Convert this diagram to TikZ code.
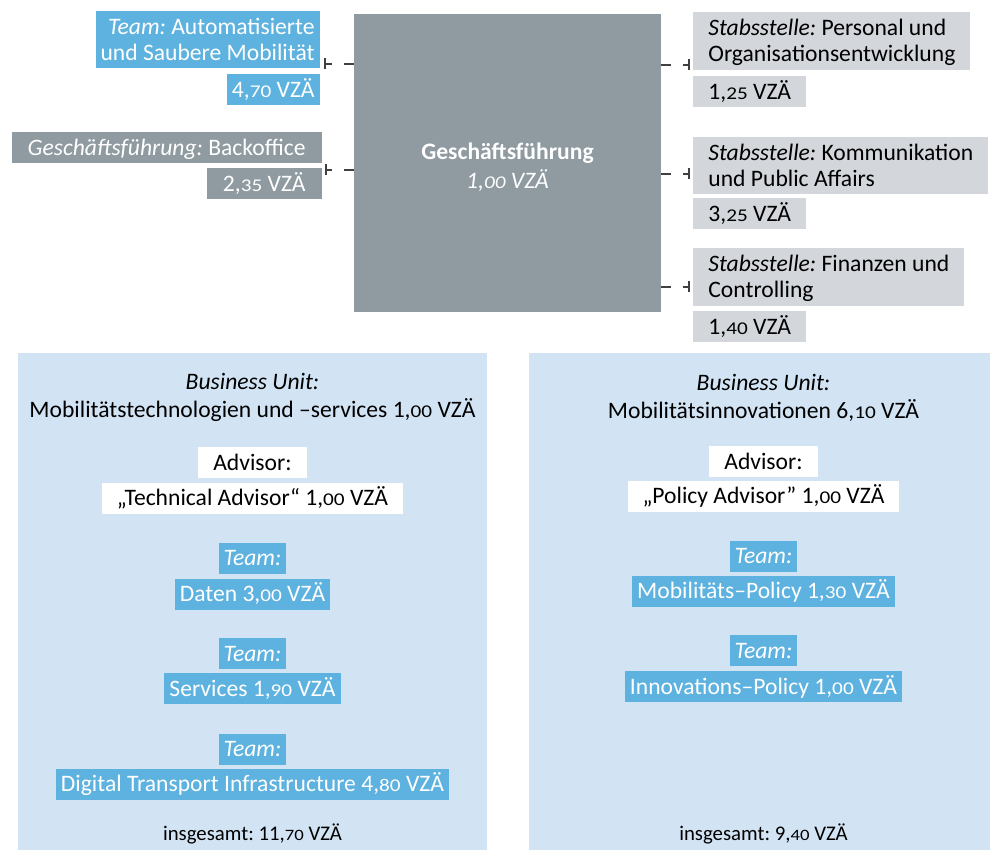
\documentclass[tikz,border=0pt]{standalone}
\usepackage{fontspec}
\setmainfont{Carlito}
\usepackage{xcolor}
\usepackage{graphicx}
\usepackage{tikz}
\usetikzlibrary{calc}
\usetikzlibrary{positioning}
\usetikzlibrary{arrows.meta}
\definecolor{teamblue}{RGB}{94,178,223}
\definecolor{unitblue}{RGB}{210,228,244}
\definecolor{gfgray}{RGB}{143,154,161}
\definecolor{stabgray}{RGB}{211,214,219}
\definecolor{linegray}{RGB}{64,64,64}
\newcommand{\onum}[1]{\scalebox{0.9}[0.76]{#1}}
\newcommand{\tstrut}{\rule{0pt}{9pt}}
\newcommand{\bstrut}{\rule[-1.5pt]{0pt}{1.5pt}}
\frenchspacing

\begin{document}
\begin{tikzpicture}[x=0.5pt,y=0.5pt,font=\fontsize{11.8}{13}\selectfont\frenchspacing,
      team style/.style={rectangle,fill=teamblue,text=white,inner
        xsep=2.5pt,inner ysep=2.5pt},
      gray style/.style={rectangle,fill=gfgray,text=white,inner
        xsep=8pt,inner ysep=2.5pt},
      stab style/.style={rectangle,fill=stabgray,inner xsep=7.5pt,inner
        ysep=2.5pt},
      adv style/.style={rectangle,fill=white,inner xsep=7.5pt,inner
        ysep=2.5pt},
      one line/.style={text height=9pt,text depth=1.5pt},
      unit style/.style={rectangle,fill=unitblue,inner sep=0pt},
      sum style/.style={font=\fontsize{10.4}{11}\selectfont\frenchspacing,anchor=base},
      link style/.style={draw=linegray,line width=1pt,dash pattern=on 5pt
        off 6pt,-{Bar[width=5.5pt,line width=1.2pt]}}
      ]
      \useasboundingbox (0,0) rectangle (990,-850);

      \node[gray style,minimum width=153.5pt,minimum height=149pt,align=center]
        (gf) at (507.5,-163) {\rule{0pt}{13pt}\textbf{Geschäftsführung}\\[1.5pt]\textit{1,\onum{00} VZÄ}};

      \node[team style,align=right,anchor=north east] (team) at (320,-11)
        {\tstrut\textit{Team:} Automatisierte\\und Saubere Mobilität\bstrut};
      \node[team style,one line,below=2.5pt of team.south east,anchor=north east]
        (teamvz) {4,\onum{70} VZÄ};
      \node[gray style,one line,anchor=north east] (bo) at (322,-132)
        {\textit{Geschäftsführung:} Backoffice};
      \node[gray style,one line,below=2pt of bo.south east,anchor=north east]
        (bovz) {2,\onum{35} VZÄ};

      \node[stab style,align=left,anchor=north west] (stab1) at (693,-12)
        {\tstrut\textit{Stabsstelle:} Personal und\\Organisationsentwicklung\bstrut};
      \node[stab style,one line,below=2.5pt of stab1.south west,anchor=north west]
        (stab1vz) {1,\onum{25} VZÄ};
      \node[stab style,align=left,anchor=north west] (stab2) at (693,-137)
        {\tstrut\textit{Stabsstelle:} Kommunikation\\und Public Affairs\bstrut};
      \node[stab style,one line,below=1.5pt of stab2.south west,anchor=north west]
        (stab2vz) {3,\onum{25} VZÄ};
      \node[stab style,align=left,anchor=north west] (stab3) at (693,-248)
        {\tstrut\textit{Stabsstelle:} Finanzen und\\Controlling\bstrut};
      \node[stab style,one line,below=2pt of stab3.south west,anchor=north west]
        (stab3vz) {1,\onum{40} VZÄ};

      \coordinate (t1) at ([shift={(4,5)}]team.south east);
      \coordinate (t2) at ([shift={(3,-2)}]bovz.north east);
      \coordinate (s1) at ([shift={(-3,6)}]stab1.south west);
      \coordinate (s2) at ([shift={(-3,21)}]stab2.south west);
      \coordinate (s3) at ([shift={(-3,20)}]stab3.south west);
      \draw[link style] (gf.west |- t1) -- (t1);
      \draw[link style] (gf.west |- t2) -- (t2);
      \draw[link style] (gf.east |- s1) -- (s1);
      \draw[link style] (gf.east |- s2) -- (s2);
      \draw[link style] (gf.east |- s3) -- (s3);

      \node[unit style,minimum width=234.5pt,minimum height=248.5pt]
        (buL) at (252.5,-601.5) {};
      \node[align=center] (buLtitle) at ([yshift=-22.5pt]buL.north)
        {\textit{Business Unit:}\\[1pt]Mobilitätstechnologien und –services 1,\onum{00} VZÄ};
      \node[adv style,one line] (advL) at ([yshift=-55pt]buL.north) {Advisor:};
      \node[adv style,one line,below=2pt of advL] (techadv)
        {„Technical Advisor“ 1,\onum{00} VZÄ};
      \node[team style,one line,below=14pt of techadv] (teamL1) {\textit{Team:}};
      \node[team style,one line,below=2pt of teamL1] (daten) {Daten 3,\onum{00} VZÄ};
      \node[team style,one line,below=14pt of daten] (teamL2) {\textit{Team:}};
      \node[team style,one line,below=1.5pt of teamL2] (services)
        {Services 1,\onum{90} VZÄ};
      \node[team style,one line,below=14.5pt of services] (teamL3) {\textit{Team:}};
      \node[team style,one line,below=1.5pt of teamL3] (dti)
        {Digital Transport Infrastructure 4,\onum{80} VZÄ};
      \node[sum style] (sumL) at ([yshift=5pt]buL.south) {insgesamt: 11,\onum{70} VZÄ};

      \node[unit style,minimum width=230.5pt,minimum height=248.5pt]
        (buR) at (759.5,-601.5) {};
      \node[align=center] (buRtitle) at ([xshift=2pt,yshift=-22.5pt]buR.north)
        {\textit{Business Unit:}\\[1pt]Mobilitätsinnovationen 6,\onum{10} VZÄ};
      \node[adv style,one line] (advR) at ([xshift=2pt,yshift=-54.5pt]buR.north) {Advisor:};
      \node[adv style,one line,below=1.5pt of advR] (poladv)
        {„Policy Advisor" 1,\onum{00} VZÄ};
      \node[team style,one line,below=14pt of poladv] (teamR1) {\textit{Team:}};
      \node[team style,one line,below=1.5pt of teamR1] (mobpol)
        {Mobilitäts–Policy 1,\onum{30} VZÄ};
      \node[team style,one line,below=14pt of mobpol] (teamR2) {\textit{Team:}};
      \node[team style,one line,below=2pt of teamR2] (innopol)
        {Innovations–Policy 1,\onum{00} VZÄ};
      \node[sum style] (sumR) at ([xshift=2pt,yshift=5pt]buR.south) {insgesamt: 9,\onum{40} VZÄ};

    \end{tikzpicture}
\end{document}
